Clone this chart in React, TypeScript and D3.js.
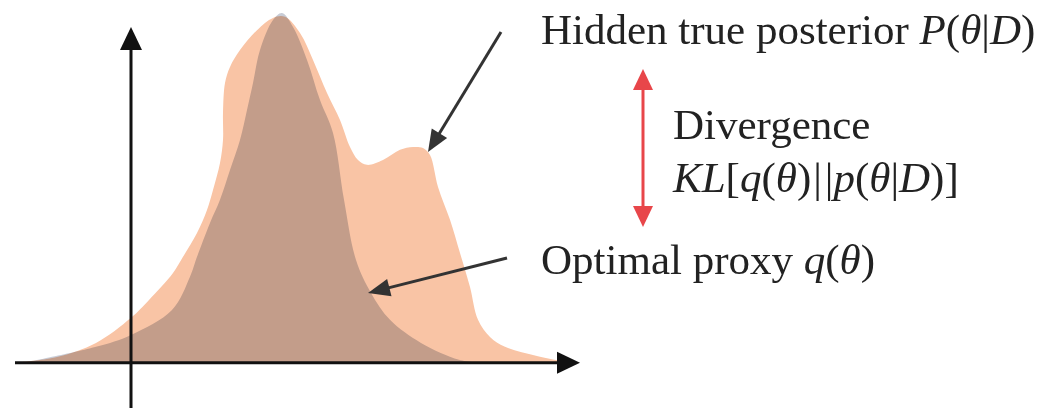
import React from "react";
import * as d3 from "d3";

// Hidden true posterior P(θ|D): [θ, density]
const posteriorTheta = [-2.16, -1.48, -0.7, 0, 0.36, 0.84, 1.04, 1.32, 1.52, 1.64, 1.78, 1.84, 1.84, 1.88, 1.98, 2.18, 2.52, 2.84, 3.08, 3.38, 3.64, 3.92, 4.18, 4.38, 4.54, 4.72, 5.04, 5.38, 5.64, 5.84, 5.98, 6.14, 6.38, 6.58, 6.78, 6.94, 7.18, 7.48, 8.1, 8.68];
const posteriorDensity = [0.003, 0.017, 0.057, 0.129, 0.18, 0.257, 0.303, 0.371, 0.437, 0.494, 0.571, 0.637, 0.714, 0.8, 0.846, 0.894, 0.951, 0.986, 0.989, 0.943, 0.866, 0.771, 0.694, 0.617, 0.58, 0.566, 0.58, 0.609, 0.617, 0.614, 0.594, 0.503, 0.409, 0.314, 0.217, 0.123, 0.074, 0.046, 0.02, 0.003];

// Optimal proxy q(θ)
const proxyTheta = [-2.16, -0.7, 0, 0.82, 1.18, 1.32, 1.58, 1.78, 1.98, 2.18, 2.32, 2.44, 2.58, 2.84, 3.02, 3.24, 3.52, 3.78, 4.04, 4.26, 4.5, 4.8, 5.18, 5.8, 6.56, 7.02];
const proxyDensity = [0, 0.046, 0.08, 0.151, 0.246, 0.303, 0.4, 0.466, 0.551, 0.637, 0.723, 0.8, 0.894, 0.98, 1.0, 0.96, 0.866, 0.751, 0.657, 0.466, 0.294, 0.2, 0.123, 0.057, 0.009, 0];

const thetaDomain = [-2.32, 8.98];
const densityDomain = [-0.129, 1.0];

const labelPosterior = "Hidden true posterior ";
const labelDivergence = "Divergence";
const labelProxy = "Optimal proxy ";

export default function App() {
  const W = 1043, H = 408;
  const x = d3.scaleLinear().domain(thetaDomain).range([15, 580]);
  const y = d3.scaleLinear().domain(densityDomain).range([408, 13]);

  const area = d3
    .area<[number, number]>()
    .x((d) => x(d[0]))
    .y0(y(0))
    .y1((d) => y(d[1]))
    .curve(d3.curveCatmullRom.alpha(0.5));

  const post = posteriorTheta.map((t, i) => [t, posteriorDensity[i]] as [number, number]);
  const prox = proxyTheta.map((t, i) => [t, proxyDensity[i]] as [number, number]);

  const x0 = x(0), y0 = y(0);
  const yTop = 27, xRight = x(thetaDomain[1]);
  const ah = 23, aw = 11;

  const arrow = (x1: number, y1: number, x2: number, y2: number, color: string, len = 22, half = 9, sw = 3) => {
    const dx = x2 - x1, dy = y2 - y1;
    const L = Math.hypot(dx, dy);
    const ux = dx / L, uy = dy / L;
    const bx = x2 - ux * len, by = y2 - uy * len;
    const px = -uy * half, py = ux * half;
    return (
      <g>
        <line x1={x1} y1={y1} x2={bx + ux * 2} y2={by + uy * 2} stroke={color} strokeWidth={sw} />
        <polygon points={`${x2},${y2} ${bx + px},${by + py} ${bx - px},${by - py}`} fill={color} />
      </g>
    );
  };

  const font = "'Liberation Serif', 'Times New Roman', serif";
  const fs = 43;
  const red = "#e8464a";
  const rx = 643, rTop = 69, rBot = 227;

  return (
    <svg width={W} height={H} style={{ display: "block", position: "absolute", left: 0, top: 0 }}>
      <rect width={W} height={H} fill="#fff" />
      <path d={area(post) || ""} fill="#f9c4a5" />
      <path d={area(prox) || ""} fill="#c8ccd6" style={{ mixBlendMode: "multiply" }} />

      {/* axes */}
      <line x1={x0} y1={H} x2={x0} y2={yTop + ah - 1} stroke="#111" strokeWidth={3} />
      <polygon points={`${x0},${yTop} ${x0 - aw},${yTop + ah} ${x0 + aw},${yTop + ah}`} fill="#111" />
      <line x1={x(thetaDomain[0])} y1={y0} x2={xRight - ah + 1} y2={y0} stroke="#111" strokeWidth={3} />
      <polygon points={`${xRight},${y0} ${xRight - ah},${y0 - aw} ${xRight - ah},${y0 + aw}`} fill="#111" />

      {/* annotation arrows */}
      {arrow(501, 32, 428, 152, "#333")}
      {arrow(507, 258, 368, 293, "#333")}

      {/* red double arrow */}
      <line x1={rx} y1={rTop + 18} x2={rx} y2={rBot - 18} stroke={red} strokeWidth={3} />
      <polygon points={`${rx},${rTop} ${rx - 10},${rTop + 21} ${rx + 10},${rTop + 21}`} fill={red} />
      <polygon points={`${rx},${rBot} ${rx - 10},${rBot - 21} ${rx + 10},${rBot - 21}`} fill={red} />

      <g fontFamily={font} fontSize={fs} fill="#222">
        <text x={541} y={44}>
          {labelPosterior}
          <tspan fontStyle="italic">P</tspan>(<tspan fontStyle="italic">θ</tspan>|<tspan fontStyle="italic">D</tspan>)
        </text>
        <text x={673} y={139}>{labelDivergence}</text>
        <text x={673} y={192}>
          <tspan fontStyle="italic">KL</tspan>[<tspan fontStyle="italic">q</tspan>(<tspan fontStyle="italic">θ</tspan>)<tspan dx={2}>|</tspan><tspan dx={3}>|</tspan><tspan fontStyle="italic">p</tspan>(<tspan fontStyle="italic">θ</tspan>|<tspan fontStyle="italic">D</tspan>)]
        </text>
        <text x={541} y={274}>
          {labelProxy}
          <tspan fontStyle="italic">q</tspan>(<tspan fontStyle="italic">θ</tspan>)
        </text>
      </g>
    </svg>
  );
}
